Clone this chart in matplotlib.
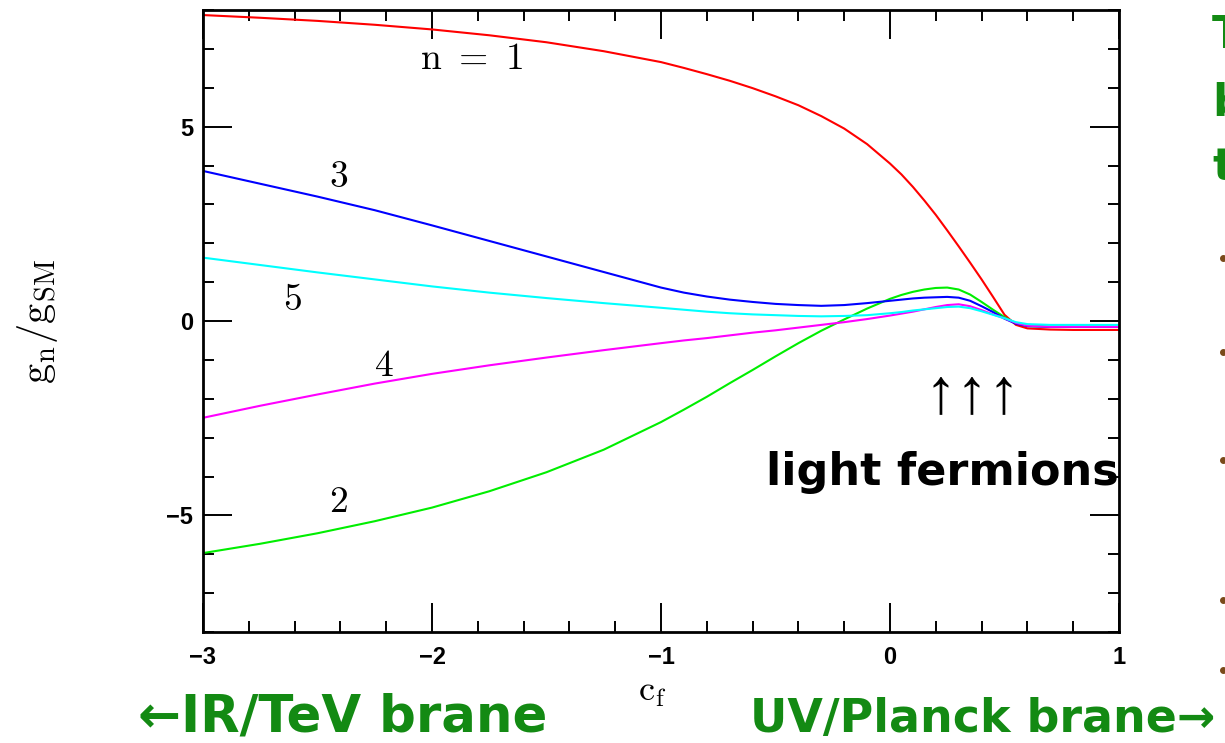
import numpy as np
import matplotlib
matplotlib.use("Agg")
import matplotlib.pyplot as plt
from matplotlib.lines import Line2D
from matplotlib.ticker import MultipleLocator

plt.rcParams['mathtext.fontset'] = 'cm'

# bulk-fermion coupling of KK gauge modes vs. localization parameter c_f
cf = [-3.0, -2.75, -2.5, -2.25, -2.0, -1.75, -1.5, -1.25, -1.0, -0.9, -0.8, -0.7,
      -0.6, -0.5, -0.4, -0.3, -0.2, -0.1, 0.0, 0.05, 0.1, 0.15, 0.2, 0.25, 0.3,
      0.35, 0.4, 0.45, 0.5, 0.55, 0.6, 0.7, 0.8, 1.0]

g1 = [7.87, 7.80, 7.72, 7.62, 7.50, 7.35, 7.17, 6.94, 6.66, 6.51, 6.35, 6.18,
      5.99, 5.78, 5.55, 5.27, 4.95, 4.55, 4.05, 3.77, 3.45, 3.10, 2.73, 2.33, 1.92,
      1.50, 1.07, 0.62, 0.16, -0.10, -0.19, -0.22, -0.23, -0.23]
g2 = [-5.97, -5.73, -5.46, -5.15, -4.80, -4.38, -3.89, -3.31, -2.60, -2.28, -1.95, -1.60,
      -1.26, -0.91, -0.57, -0.25, 0.04, 0.32, 0.57, 0.67, 0.75, 0.81, 0.85, 0.86, 0.81,
      0.68, 0.49, 0.29, 0.10, -0.06, -0.13, -0.15, -0.15, -0.15]
g3 = [3.86, 3.53, 3.20, 2.85, 2.46, 2.06, 1.66, 1.26, 0.86, 0.73, 0.63, 0.55,
      0.49, 0.44, 0.41, 0.39, 0.41, 0.46, 0.52, 0.55, 0.58, 0.60, 0.61, 0.62, 0.60,
      0.52, 0.38, 0.23, 0.06, -0.07, -0.13, -0.15, -0.15, -0.15]
g4 = [-2.49, -2.18, -1.89, -1.61, -1.36, -1.14, -0.94, -0.75, -0.57, -0.50, -0.44, -0.37,
      -0.30, -0.24, -0.17, -0.10, -0.03, 0.05, 0.14, 0.19, 0.24, 0.30, 0.36, 0.41, 0.43,
      0.38, 0.28, 0.17, 0.07, -0.05, -0.12, -0.15, -0.15, -0.15]
g5 = [1.63, 1.44, 1.25, 1.07, 0.89, 0.73, 0.59, 0.46, 0.34, 0.29, 0.24, 0.20,
      0.17, 0.15, 0.13, 0.12, 0.13, 0.15, 0.20, 0.23, 0.27, 0.30, 0.33, 0.36, 0.37,
      0.33, 0.25, 0.16, 0.07, -0.03, -0.08, -0.10, -0.10, -0.10]

curve_labels = ['n = 1', '2', '3', '4', '5']
label_pos = [(-1.83, 6.73), (-2.41, -4.65), (-2.41, 3.71), (-2.21, -1.17), (-2.61, 0.55)]

fig = plt.figure(figsize=(12.25, 7.43), dpi=100)
ax = fig.add_axes([203 / 1225, 1 - 632 / 743, (1119 - 203) / 1225, (632 - 10) / 743])

ax.plot(cf, g1, color='#ff0000', lw=1.5)
ax.plot(cf, g2, color='#00ee00', lw=1.5)
ax.plot(cf, g3, color='#0000ff', lw=1.5)
ax.plot(cf, g4, color='#ff00ff', lw=1.5)
ax.plot(cf, g5, color='#00ffff', lw=1.5)

for txt, (x, y) in zip(curve_labels, label_pos):
    ax.text(x, y, r'$\mathrm{' + txt.replace(' ', r'\ ') + '}$', fontsize=27,
            ha='center', va='center', color='black')

ax.set_xlim(-3, 1)
ax.set_ylim(-8, 8)
ax.xaxis.set_major_locator(MultipleLocator(1))
ax.xaxis.set_minor_locator(MultipleLocator(0.2))
ax.yaxis.set_major_locator(MultipleLocator(5))
ax.yaxis.set_minor_locator(MultipleLocator(1))
ax.tick_params(which='both', direction='in', top=True, right=True, width=1.4, color='black')
ax.tick_params(which='major', length=21)
ax.tick_params(which='minor', length=8)
ax.tick_params(axis='x', which='major', pad=10, labelsize=17)
ax.tick_params(axis='y', which='major', pad=7, labelsize=17)
for lab in ax.get_xticklabels() + ax.get_yticklabels():
    lab.set_family('Liberation Sans')
    lab.set_fontweight('bold')
for sp in ax.spines.values():
    sp.set_linewidth(2)

fig.text(37 / 1225, 1 - 322 / 743, r'$\mathrm{g_{n}/g_{SM}}$', rotation=90,
         fontsize=29, ha='center', va='center')
fig.text(652 / 1225, 1 - 692 / 743, r'$\mathrm{c_{f}}$', fontsize=26, ha='center', va='center')

# annotations on the plot
fig.text(973 / 1225, 1 - 395 / 743, '↑↑↑', fontsize=46, family=['Liberation Sans', 'DejaVu Sans'],
         ha='center', va='center', color='black')
fig.text(766 / 1225, 1 - 485 / 743, 'light fermions', fontsize=32, fontweight='bold',
         family=['DejaVu Sans'], ha='left', va='baseline', color='black')

green = '#138a13'
fig.text(138 / 1225, 1 - 732 / 743, '←IR/TeV brane', fontsize=37, fontweight='bold',
         family=['DejaVu Sans'], ha='left', va='baseline', color=green)
fig.text(750 / 1225, 1 - 732 / 743, 'UV/Planck brane→', fontsize=33, fontweight='bold',
         family=['DejaVu Sans'], ha='left', va='baseline', color=green)

# slide text running off the right edge
for ch, py in [('T', 48), ('b', 115), ('t', 180)]:
    fig.text(1212 / 1225, 1 - py / 743, ch, fontsize=32, fontweight='bold',
             family=['DejaVu Sans'], ha='left', va='baseline', color=green)
for py in [258, 352, 460, 600, 670]:
    fig.add_artist(Line2D([1223 / 1225], [1 - py / 743], marker='o', markersize=4,
                          color='#7a4a1a', transform=fig.transFigure))

fig.savefig('out.png', dpi=100)
